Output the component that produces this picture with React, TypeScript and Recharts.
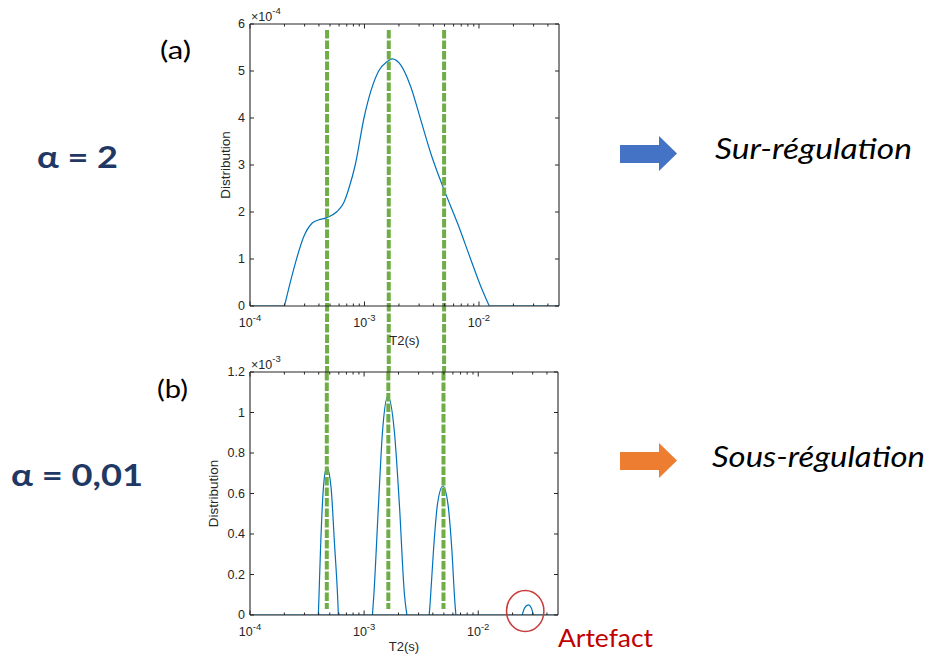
import React from 'react'
import { LineChart, Line, XAxis, YAxis, ReferenceLine, ReferenceDot } from 'recharts'

// T2 axis (log scale, seconds)
const xRange = [1e-4, 0.05]
const xMajorTicks = [1e-4, 1e-3, 1e-2]
const xMajorExp = ['-4', '-3', '-2']
const xMinorTicks = [2e-4, 3e-4, 4e-4, 5e-4, 6e-4, 7e-4, 8e-4, 9e-4, 2e-3, 3e-3, 4e-3, 5e-3, 6e-3, 7e-3, 8e-3, 9e-3, 2e-2, 3e-2, 4e-2]

// the three T2 populations (green dashed markers)
const markerT2 = [4.71e-4, 1.63e-3, 4.96e-3]

// (a) alpha = 2, distribution in units of 1e-4
const topTicks = [0, 1, 2, 3, 4, 5, 6]
const topCurve: [number, number][] = [
  [2.0e-4, 0], [2.4e-4, 0.77], [2.94e-4, 1.47], [3.48e-4, 1.76], [3.95e-4, 1.83],
  [4.71e-4, 1.88], [5.76e-4, 2.01], [6.6e-4, 2.2], [7.3e-4, 2.5], [8.3e-4, 3.0],
  [9.9e-4, 4.0], [1.33e-3, 5.0], [1.58e-3, 5.2], [1.75e-3, 5.26], [2.07e-3, 5.13],
  [2.53e-3, 4.67], [3.1e-3, 3.96], [3.79e-3, 3.25], [4.96e-3, 2.47], [6.5e-3, 1.76],
  [8.51e-3, 0.98], [1.04e-2, 0.41], [1.23e-2, 0],
]
const topZeroLeft: [number, number][] = [[1e-4, 0], [2.0e-4, 0]]
const topZeroRight: [number, number][] = [[1.23e-2, 0], [5e-2, 0]]

// (b) alpha = 0.01, distribution in units of 1e-3
const bottomTicks = [0, 0.2, 0.4, 0.6, 0.8, 1, 1.2]
const bottomZero: [number, number][] = [[1e-4, 0], [5e-2, 0]]
const peak1: [number, number][] = [
  [3.97e-4, 0], [4.01e-4, 0.07], [4.17e-4, 0.36], [4.4e-4, 0.63], [4.71e-4, 0.73],
  [5.13e-4, 0.63], [5.49e-4, 0.36], [5.88e-4, 0.07], [5.95e-4, 0],
]
const peak2: [number, number][] = [
  [1.183e-3, 0], [1.217e-3, 0.1], [1.335e-3, 0.54], [1.447e-3, 0.9], [1.614e-3, 1.08],
  [1.845e-3, 0.9], [2.04e-3, 0.54], [2.257e-3, 0.1], [2.37e-3, 0],
]
const peak3: [number, number][] = [
  [3.72e-3, 0], [3.79e-3, 0.06], [4.055e-3, 0.32], [4.4e-3, 0.55], [4.9e-3, 0.637],
  [5.42e-3, 0.55], [5.875e-3, 0.32], [6.245e-3, 0.06], [6.37e-3, 0],
]
const artefact: [number, number][] = [
  [2.43e-2, 0], [2.55e-2, 0.035], [2.75e-2, 0.05], [2.92e-2, 0.035], [3.04e-2, 0],
]
const artefactMark = { t: 2.58e-2, v: 0.02 }

const AXIS = '#262626'
const BLUE = '#0072BD'
const GREEN = '#70AD47'
const FONT = '"Liberation Sans", Arial, sans-serif'

const rows = (pts: [number, number][]) => pts.map(([t, v]) => ({ t, v }))

function BottomTick(props: any) {
  const { x, y, payload } = props
  const i = xMajorTicks.indexOf(payload.value)
  const major = i >= 0
  return (
    <g>
      <line x1={x} y1={y} x2={x} y2={y - (major ? 4.5 : 2.5)} stroke={AXIS} />
      {major && (
        <text x={x} y={y + 21} textAnchor="middle" fontSize={12.5} fill={AXIS} fontFamily={FONT}>
          10<tspan dy={-6} fontSize={9.5}>{xMajorExp[i]}</tspan>
        </text>
      )}
    </g>
  )
}

function TopTick(props: any) {
  const { x, y, payload } = props
  const major = xMajorTicks.includes(payload.value)
  return <line x1={x} y1={y} x2={x} y2={y + (major ? 4.5 : 2.5)} stroke={AXIS} />
}

function LeftTick(props: any) {
  const { x, y, payload, top, exp } = props
  const v = payload.value
  return (
    <g>
      <line x1={x} y1={y} x2={x + 4} y2={y} stroke={AXIS} />
      <text x={x - 5} y={y} dy="0.35em" textAnchor="end" fontSize={12.5} fill={AXIS} fontFamily={FONT}>
        {String(v)}
      </text>
      {v === top && (
        <text x={x + 1} y={y - 3} fontSize={12.5} fill={AXIS} fontFamily={FONT}>
          ×10<tspan dy={-7} fontSize={9.5}>{exp}</tspan>
        </text>
      )}
    </g>
  )
}

function RightTick(props: any) {
  const { x, y } = props
  return <line x1={x} y1={y} x2={x - 4} y2={y} stroke={AXIS} />
}

function axisTitle(text: string, dx: number) {
  return (p: any) => {
    const vb = p.viewBox
    const cx = vb.x + vb.width + dx
    const cy = vb.y + vb.height / 2
    return (
      <text x={cx} y={cy} transform={`rotate(-90 ${cx} ${cy})`} textAnchor="middle" dominantBaseline="central"
        fontSize={13.5} fill={AXIS} fontFamily={FONT}>{text}</text>
    )
  }
}

function xTitle(dy: number) {
  return (p: any) => {
    const vb = p.viewBox
    return (
      <text x={vb.x + vb.width / 2} y={vb.y + dy} textAnchor="middle" fontSize={13} fill={AXIS} fontFamily={FONT}>T2(s)</text>
    )
  }
}

const allXTicks = [...xMajorTicks, ...xMinorTicks].sort((a, b) => a - b)

function Panel(props: {
  width: number; height: number; margin: any; xHeight: number; yMax: number; yTicks: number[]
  exp: string; titleDx: number; xTitleDy: number; lineFrom: number; lineTo: number; children?: React.ReactNode
}) {
  const { yMax, yTicks } = props
  return (
    <LineChart width={props.width} height={props.height} margin={props.margin}>
      <XAxis xAxisId="b" dataKey="t" type="number" scale="log" domain={xRange} allowDataOverflow ticks={allXTicks}
        interval={0} tickSize={0} tickMargin={0} tickLine={false} axisLine={{ stroke: AXIS, strokeWidth: 1.1 }} height={props.xHeight}
        tick={<BottomTick />} label={{ content: xTitle(props.xTitleDy) } as any} />
      <XAxis xAxisId="t" orientation="top" dataKey="t" type="number" scale="log" domain={xRange} allowDataOverflow
        ticks={allXTicks} interval={0} tickSize={0} tickMargin={0} tickLine={false} axisLine={{ stroke: AXIS, strokeWidth: 1.1 }} height={1}
        tick={<TopTick />} />
      <YAxis yAxisId="l" type="number" domain={[0, yMax]} allowDataOverflow ticks={yTicks} interval={0} tickSize={0}
        tickMargin={0} tickLine={false} axisLine={{ stroke: AXIS, strokeWidth: 1.1 }} width={40}
        tick={<LeftTick top={yMax} exp={props.exp} />} label={{ content: axisTitle('Distribution', props.titleDx) } as any} />
      <YAxis yAxisId="r" orientation="right" type="number" domain={[0, yMax]} allowDataOverflow ticks={yTicks} interval={0}
        tickSize={0} tickMargin={0} tickLine={false} axisLine={{ stroke: AXIS, strokeWidth: 1.1 }} width={5} tick={<RightTick />} />
      {props.children}
      {markerT2.map((t) => (
        <ReferenceLine key={t} xAxisId="b" yAxisId="l" ifOverflow="visible"
          segment={[{ x: t, y: props.lineFrom }, { x: t, y: props.lineTo }]}
          stroke={GREEN} strokeWidth={4} strokeDasharray="8.5 2" />
      ))}
    </LineChart>
  )
}

function seriesLine(key: string, pts: [number, number][]) {
  return (
    <Line key={key} xAxisId="b" yAxisId="l" data={rows(pts)} dataKey="v" type="monotone" stroke={BLUE}
      strokeWidth={1.2} dot={false} activeDot={false} isAnimationActive={false} />
  )
}

export default function App() {
  return (
    <div style={{ position: 'absolute', left: 0, top: 0, width: 930, height: 659, background: '#fff', overflow: 'hidden' }}>
      <div style={{ position: 'absolute', left: 200, top: 0 }}>
        <Panel width={380} height={380} margin={{ top: 23, right: 16, bottom: 32, left: 10 }} xHeight={42}
          yMax={6} yTicks={topTicks} exp="-4" titleDx={-25} xTitleDy={39} lineFrom={5.87} lineTo={-1.404}>
          {seriesLine('z1', topZeroLeft)}
          {seriesLine('z2', topZeroRight)}
          {seriesLine('c', topCurve)}
        </Panel>
      </div>
      <div style={{ position: 'absolute', left: 200, top: 350 }}>
        <Panel width={380} height={309} margin={{ top: 21, right: 17, bottom: 6, left: 10 }} xHeight={38}
          yMax={1.2} yTicks={bottomTicks} exp="-3" titleDx={-37} xTitleDy={36} lineFrom={1.2} lineTo={0.03}>
          {seriesLine('z', bottomZero)}
          {seriesLine('p1', peak1)}
          {seriesLine('p2', peak2)}
          {seriesLine('p3', peak3)}
          {seriesLine('a', artefact)}
          <ReferenceDot xAxisId="b" yAxisId="l" x={artefactMark.t} y={artefactMark.v} ifOverflow="visible"
            shape={(p: any) => <ellipse cx={p.cx} cy={p.cy} rx={18.7} ry={20.5} fill="none" stroke="#C83C3C" strokeWidth={1.5} />} />
        </Panel>
      </div>
      <svg width={930} height={659} style={{ position: 'absolute', left: 0, top: 0, pointerEvents: 'none' }}
        fontFamily="Lato, 'Open Sans', sans-serif">
        <text x={160} y={59} fontSize={25} textLength={31} lengthAdjust="spacingAndGlyphs" fill="#000">(a)</text>
        <text x={157} y={398} fontSize={25} textLength={31} lengthAdjust="spacingAndGlyphs" fill="#000">(b)</text>
        <text x={37} y={168} fontSize={31} fontWeight="bold" textLength={81} lengthAdjust="spacingAndGlyphs" fill="#1F3864">α = 2</text>
        <text x={11} y={486} fontSize={31} fontWeight="bold" textLength={132} lengthAdjust="spacingAndGlyphs" fill="#1F3864">α = 0,01</text>
        <polygon points="620,145 659,145 659,136 677,153.5 659,171 659,163 620,163" fill="#4472C4" />
        <polygon points="620,452 659,452 659,443 677,460.5 659,478 659,470 620,470" fill="#ED7D31" />
        <text x={715} y={159} fontSize={28} fontStyle="italic" textLength={197} lengthAdjust="spacingAndGlyphs" fill="#000">Sur-régulation</text>
        <text x={712} y={466.5} fontSize={28} fontStyle="italic" textLength={213} lengthAdjust="spacingAndGlyphs" fill="#000">Sous-régulation</text>
        <text x={558} y={647} fontSize={25} textLength={95} lengthAdjust="spacingAndGlyphs" fill="#C00000">Artefact</text>
      </svg>
    </div>
  )
}
